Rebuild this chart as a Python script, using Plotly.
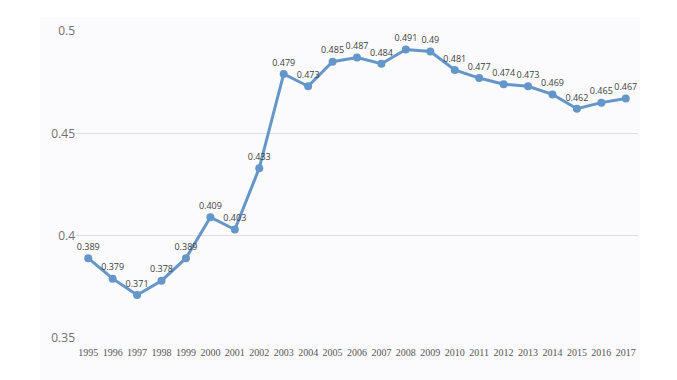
import plotly.graph_objects as go

years = [str(y) for y in range(1995, 2018)]
values = [0.389, 0.379, 0.371, 0.378, 0.389, 0.409, 0.403, 0.433, 0.479, 0.473,
          0.485, 0.487, 0.484, 0.491, 0.49, 0.481, 0.477, 0.474, 0.473, 0.469,
          0.462, 0.465, 0.467]
labels = ["0.389", "0.379", "0.371", "0.378", "0.389", "0.409", "0.403", "0.433", "0.479", "0.473",
          "0.485", "0.487", "0.484", "0.491", "0.49", "0.481", "0.477", "0.474", "0.473", "0.469",
          "0.462", "0.465", "0.467"]
y_ticks = [0.35, 0.4, 0.45, 0.5]
y_tick_text = ["0.35", "0.4", "0.45", "0.5"]

fig = go.Figure()
fig.add_trace(go.Scatter(
    x=list(range(len(years))), y=values, mode="lines+markers+text",
    text=labels, textposition="top center",
    textfont=dict(family="Open Sans", size=9, color="#404040"),
    line=dict(color="#6596c9", width=3),
    marker=dict(color="#6596c9", size=8),
    cliponaxis=False,
))

fig.add_shape(type="rect", xref="paper", yref="paper",
              x0=-0.064, x1=1.004, y0=-0.14, y1=1.045,
              fillcolor="#fbfbfd", line=dict(width=0), layer="below")

fig.update_layout(
    width=669, height=372,
    margin=dict(l=68, r=39, t=23, b=42),
    paper_bgcolor="white", plot_bgcolor="rgba(0,0,0,0)",
    showlegend=False,
    xaxis=dict(
        tickmode="array", tickvals=list(range(len(years))), ticktext=years,
        range=[-0.5, 22.5], showgrid=False, zeroline=False, showline=False,
        tickfont=dict(family="Liberation Serif", size=10, color="#555555"),
        ticks="outside", ticklen=5, tickcolor="rgba(0,0,0,0)",
    ),
    yaxis=dict(
        range=[0.35, 0.5], tickvals=y_ticks, ticktext=y_tick_text,
        showgrid=True, gridcolor="#dedede", gridwidth=1, zeroline=False,
        showline=False, ticks="",
        tickfont=dict(family="Open Sans", size=12, color="#707070"),
    ),
)

fig.write_html("out.html")
